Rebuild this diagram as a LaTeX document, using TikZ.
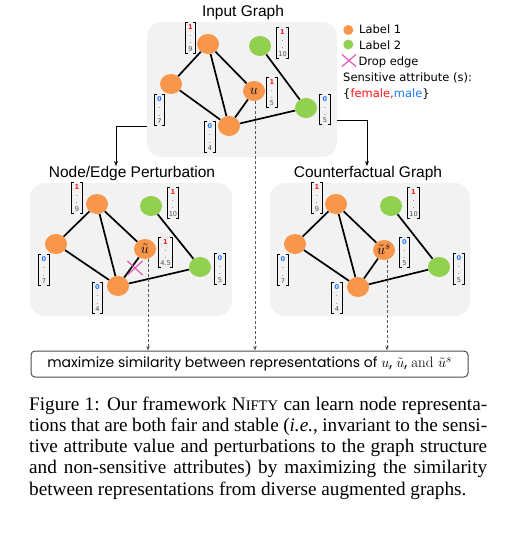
\documentclass[tikz,border=0pt]{standalone}
\usepackage{fontspec}
\usetikzlibrary{shapes.geometric,shapes.misc,arrows.meta}
\newfontfamily\titlefont{Liberation Sans}
\newfontfamily\legfont{DejaVu Sans}
\newfontfamily\boxfont{Poppins}
\newfontfamily\capfont{Liberation Serif}
\definecolor{nodeorange}{RGB}{248,150,75}
\definecolor{nodegreen}{RGB}{146,208,80}
\definecolor{panelgray}{RGB}{242,242,242}
\definecolor{attrred}{RGB}{255,20,20}
\definecolor{attrblue}{RGB}{30,120,255}
\definecolor{crosspink}{RGB}{225,90,185}
\definecolor{vecgray}{RGB}{80,80,80}
\tikzset{
  panel/.style={fill=panelgray, rounded corners=15pt, minimum width=#1, inner sep=0pt},
  ptitle/.style={font=\titlefont\fontsize{15.5}{16}\selectfont, inner sep=0pt},
  gn/.style={ellipse, minimum width=22pt, minimum height=20pt, inner sep=0pt, font=\fontsize{15}{15}\selectfont},
  on/.style={gn, fill=nodeorange},
  grn/.style={gn, fill=nodegreen},
  edge/.style={line width=1.7pt, black},
  vecnode/.style={font=\legfont\fontsize{6.6}{7.1}\selectfont, text=vecgray, align=center, inner xsep=1.2pt, inner ysep=1pt, minimum width=10pt, minimum height=30pt},
  brk/.style={line width=1.1pt, black},
  dasharr/.style={draw=gray!70!black, line width=0.9pt, dash pattern=on 3pt off 2pt, -{Stealth[length=4.5pt,width=3.5pt,fill=black]}},
  solidarr/.style={line width=0.9pt, black, -{Stealth[length=5pt,width=4pt]}},
  xmark/.style={cross out, draw=crosspink, line width=1.2pt, inner sep=0pt},
  legdot/.style={circle, minimum size=10pt, inner sep=0pt},
  legtext/.style={font=\legfont\fontsize{11.5}{12}\selectfont, anchor=base west, inner sep=0pt},
  simbox/.style={draw=gray!60!black, line width=1pt, rounded corners=4pt, fill=white, minimum width=437pt, minimum height=26pt, inner sep=0pt},
  capline/.style={font=\capfont\fontsize{19.2}{21}\selectfont, anchor=base west, inner sep=0pt}
}
\newcommand\vecn[5]{%
  \node[vecnode] (#1) at (#2) {{\color{#3}\bfseries #4}\\.\\.\\#5};
  \draw[brk] ([xshift=2.5pt]#1.north west) -- (#1.north west) -- (#1.south west) -- ([xshift=2.5pt]#1.south west);
  \draw[brk] ([xshift=-2.5pt]#1.north east) -- (#1.north east) -- (#1.south east) -- ([xshift=-2.5pt]#1.south east);
}
\begin{document}
\begin{tikzpicture}[x=1pt,y=-1pt]
\useasboundingbox (0,0) rectangle (529,544);
% panels
\node[panel=190pt, minimum height=135pt] (tpanel) at (242,89.5) {};
\node[panel=202pt, minimum height=133pt] (lpanel) at (131,249.5) {};
\node[panel=200pt, minimum height=133pt] (rpanel) at (370,249.5) {};
% titles
\node[ptitle] (ttitle) at (243,12) {Input Graph};
\node[ptitle] (ltitle) at (132,173) {Node/Edge Perturbation};
\node[ptitle] (rtitle) at (368,173) {Counterfactual Graph};
% arrows from input graph
\coordinate (la) at (147,126);
\coordinate (lb) at (116,166);
\coordinate (ra) at (337,120);
\coordinate (rb) at (367,166);
\draw[solidarr] (la) -| (lb);
\draw[solidarr] (ra) -| (rb);
% ---------- top graph
\node[on] (tA) at (208,44) {};
\node[on] (tB) at (171,84) {};
\node[on] (tC) at (229,126) {};
\node[on] (tU) at (254,91) {$u$};
\node[grn] (tG1) at (260,46) {};
\node[grn] (tG2) at (306,108) {};
\draw[edge] (tA) -- (tB);
\draw[edge] (tA) -- (tC);
\draw[edge] (tA) -- (tU);
\draw[edge] (tB) -- (tC);
\draw[edge] (tC) -- (tU);
\draw[edge] (tC) -- (tG2);
\draw[edge] (tG1) -- (tG2);
\vecn{tv9}{190.5,38}{attrred}{1}{9}
\vecn{tv10}{282.5,43}{attrred}{1}{10}
\vecn{tvu}{272,92.5}{attrred}{1}{5}
\vecn{tv7}{159.5,110}{attrblue}{0}{7}
\vecn{tv4}{210,137}{attrblue}{0}{4}
\vecn{tv5}{325,109.5}{attrblue}{0}{5}
% ---------- left graph
\node[on] (lA) at (97,204) {};
\node[on] (lB) at (56,244) {};
\node[on] (lC) at (118,286) {};
\node[on] (lU) at (145,249) {$\tilde{u}$};
\node[grn] (lG1) at (151,206) {};
\node[grn] (lG2) at (200,267) {};
\draw[edge] (lA) -- (lB);
\draw[edge] (lA) -- (lC);
\draw[edge] (lA) -- (lU);
\draw[edge] (lB) -- (lC);
\draw[edge] (lC) -- (lU);
\draw[edge] (lC) -- (lG2);
\draw[edge] (lG1) -- (lG2);
\node[xmark, minimum width=14pt, minimum height=13pt] (lx) at (135,268) {};
\vecn{lv9}{77,198}{attrred}{1}{9}
\vecn{lv10}{173,203}{attrred}{1}{10}
\vecn{lvu}{165.5,252.5}{attrred}{1}{4.5}
\vecn{lv7}{44,270}{attrblue}{0}{7}
\vecn{lv4}{97.5,298}{attrblue}{0}{4}
\vecn{lv5}{220,269}{attrblue}{0}{5}
% ---------- right graph
\node[on] (rA) at (336,204) {};
\node[on] (rB) at (295,244) {};
\node[on] (rC) at (358,287) {};
\node[on] (rU) at (384,250) {$\tilde{u}^{s}$};
\node[grn] (rG1) at (391,206) {};
\node[grn] (rG2) at (439,267) {};
\draw[edge] (rA) -- (rB);
\draw[edge] (rA) -- (rC);
\draw[edge] (rA) -- (rU);
\draw[edge] (rB) -- (rC);
\draw[edge] (rC) -- (rU);
\draw[edge] (rC) -- (rG2);
\draw[edge] (rG1) -- (rG2);
\vecn{rv9}{317,198}{attrred}{1}{9}
\vecn{rv10}{413.5,203}{attrred}{1}{10}
\vecn{rvu}{404.5,252.5}{attrblue}{0}{5}
\vecn{rv7}{283,270}{attrblue}{0}{7}
\vecn{rv4}{337,298}{attrblue}{0}{4}
\vecn{rv5}{459,269}{attrblue}{0}{5}
% ---------- legend
\node[legdot, fill=nodeorange] (lgo) at (348.3,30) {};
\node[legtext] (lgt1) at (359,33.3) {Label 1};
\node[legdot, fill=nodegreen] (lgg) at (348.3,44.5) {};
\node[legtext] (lgt2) at (359,49.2) {Label 2};
\node[xmark, minimum width=13pt, minimum height=11pt] (lgx) at (349,60.5) {};
\node[legtext] (lgt3) at (358.3,65) {Drop edge};
\node[legtext] (lgt4) at (343,81.5) {Sensitive attribute (s):};
\node[legtext] (lgt5) at (343,97) {\{\textcolor{attrred}{female,}\textcolor{attrblue}{male}\}};
% ---------- similarity box
\node[simbox] (box) at (249.5,364) {\boxfont\fontsize{14}{15}\selectfont maximize similarity between representations of {\fontsize{15}{15}\selectfont$u$,\ $\tilde{u}$,\ \rmfamily and\ $\tilde{u}^{s}$}};
\draw[dasharr] ([xshift=1pt]tU.south) -- ([xshift=1pt]tU.south |- box.north);
\draw[dasharr] ([xshift=3pt]lU.south) -- ([xshift=3pt]lU.south |- box.north);
\draw[dasharr] ([xshift=3pt]rU.south) -- ([xshift=3pt]rU.south |- box.north);
% ---------- caption
\node[capline] (c1) at (29,410) {\makebox[458pt][s]{Figure 1: Our framework N{\fontsize{14.6}{14}\selectfont IFTY} can learn node representa-}};
\node[capline] (c2) at (29,431.3) {\makebox[458pt][s]{tions that are both fair and stable (\textit{i.e.}, invariant to the sensi-}};
\node[capline] (c3) at (29,452.6) {\makebox[458pt][s]{tive attribute value and perturbations to the graph structure}};
\node[capline] (c4) at (29,473.9) {\makebox[458pt][s]{and non-sensitive attributes) by maximizing the similarity}};
\node[capline] (c5) at (29,495.2) {between representations from diverse augmented graphs.};
\end{tikzpicture}
\end{document}
